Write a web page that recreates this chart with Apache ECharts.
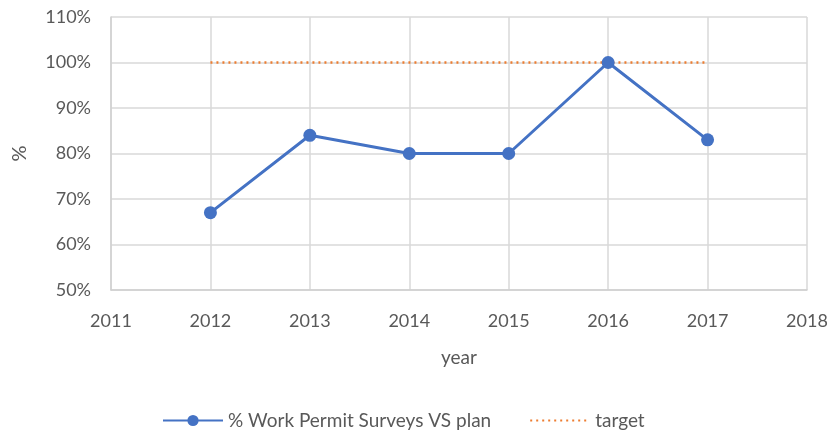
<!DOCTYPE html>
<html><head><meta charset="utf-8">
<script src="https://cdn.jsdelivr.net/npm/echarts@6/dist/echarts.min.js"></script>
<style>html,body{margin:0;padding:0;background:#fff}#c{width:832px;height:433px}</style>
</head><body><div id="c"></div>
<script>
const years = [2012, 2013, 2014, 2015, 2016, 2017];
const surveys = [67, 84, 80, 80, 100, 83];
const target = [100, 100, 100, 100, 100, 100];
const seriesNames = ['% Work Permit Surveys VS plan', 'target'];

const chart = echarts.init(document.getElementById('c'));
const font = 'Lato, "Open Sans", sans-serif';
chart.setOption({
  animation: false,
  textStyle: {fontFamily: font},
  grid: {left: 111, right: 25, top: 17, bottom: 143, containLabel: false},
  xAxis: {
    type: 'value', min: 2011, max: 2018, interval: 1,
    name: 'year', nameLocation: 'middle', nameGap: 58,
    nameTextStyle: {color: '#595959', fontSize: 19, fontFamily: font},
    axisLine: {show: true, lineStyle: {color: '#d0d0d0', width: 1.5}},
    axisTick: {show: false},
    axisLabel: {color: '#595959', fontSize: 18, margin: 22, fontFamily: font, formatter: v => String(v)},
    splitLine: {show: true, lineStyle: {color: '#d9d9d9', width: 1.5}}
  },
  yAxis: {
    type: 'value', min: 50, max: 110, interval: 10,
    name: '%', nameLocation: 'middle', nameGap: 81, nameRotate: 90,
    nameTextStyle: {color: '#595959', fontSize: 20, fontFamily: font},
    axisLine: {show: true, lineStyle: {color: '#d0d0d0', width: 1.5}},
    axisTick: {show: false},
    axisLabel: {color: '#595959', fontSize: 18, margin: 20, formatter: '{value}%', fontFamily: font},
    splitLine: {show: true, lineStyle: {color: '#d9d9d9', width: 1.5}}
  },
  legend: {
    bottom: 3, left: 162, padding: 0, itemWidth: 60, itemHeight: 14, itemGap: 38,
    textStyle: {color: '#595959', fontSize: 19, fontFamily: font},
    data: [
      {name: seriesNames[0]},
      {name: seriesNames[1], itemStyle: {opacity: 0}}
    ]
  },
  series: [
    {
      name: seriesNames[0], type: 'line',
      data: years.map((y, i) => [y, surveys[i]]),
      symbol: 'circle', symbolSize: 13,
      lineStyle: {color: '#4472C4', width: 3},
      itemStyle: {color: '#4472C4'}, z: 3
    },
    {
      name: seriesNames[1], type: 'line',
      data: years.map((y, i) => [y, target[i]]),
      symbol: 'none',
      lineStyle: {color: '#ED7D31', width: 2.5, type: [2, 4]},
      itemStyle: {color: '#ED7D31'}, z: 2
    }
  ]
});
</script></body></html>
